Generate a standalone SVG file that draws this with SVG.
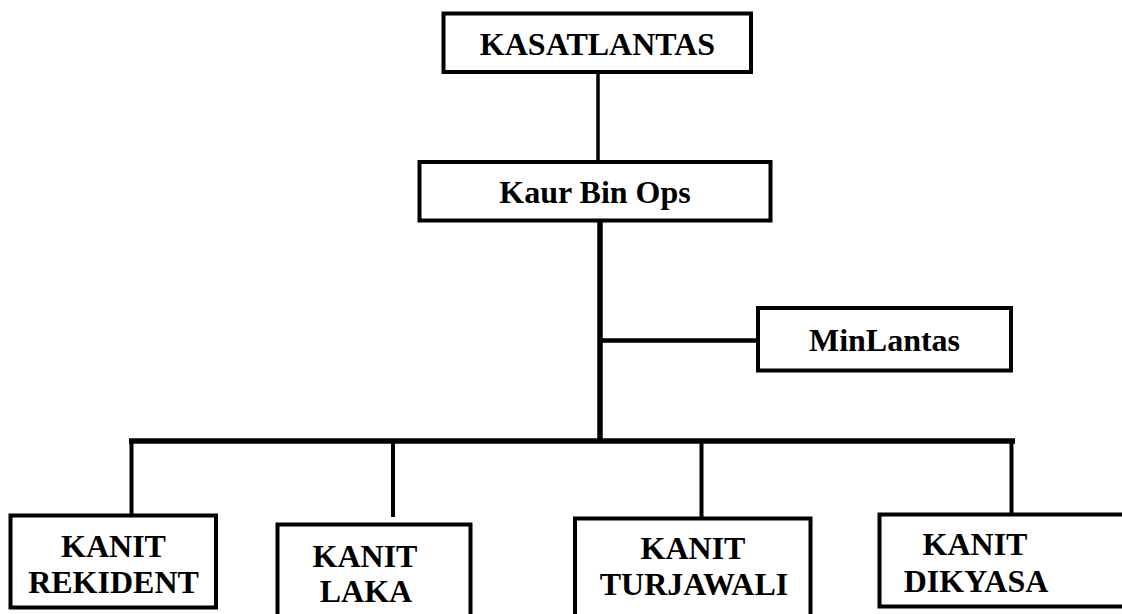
<svg xmlns="http://www.w3.org/2000/svg" width="1122" height="614" viewBox="0 0 1122 614">
<style>
.box{fill:#fff;stroke:#000;stroke-width:4}
.ln{stroke:#000;fill:none}
text{font-family:"Liberation Serif","Times New Roman",serif;font-weight:bold;font-size:32px;fill:#000;text-anchor:middle}
</style>
<rect width="1122" height="614" fill="#fff"/>
<g id="connectors">
<line class="ln" x1="598" y1="72" x2="598" y2="162" stroke-width="3.5"/>
<line class="ln" x1="600" y1="220" x2="600" y2="441" stroke-width="5.5"/>
<line class="ln" x1="600" y1="340.5" x2="758" y2="340.5" stroke-width="4.5"/>
<line class="ln" x1="129" y1="441" x2="1015" y2="441" stroke-width="5.5"/>
<line class="ln" x1="131.5" y1="441" x2="131.5" y2="516" stroke-width="4"/>
<line class="ln" x1="393" y1="441" x2="393" y2="517" stroke-width="4"/>
<line class="ln" x1="701.5" y1="441" x2="701.5" y2="518" stroke-width="4"/>
<line class="ln" x1="1011.5" y1="441" x2="1011.5" y2="514" stroke-width="4"/>
</g>
<g id="kasatlantas">
<rect class="box" x="443.5" y="13.5" width="307.5" height="58.5"/>
<text x="597.5" y="55">KASATLANTAS</text>
</g>
<g id="kaurbinops">
<rect class="box" x="419.5" y="162" width="351" height="58.5"/>
<text x="595" y="203">Kaur Bin Ops</text>
</g>
<g id="minlantas">
<rect class="box" x="758" y="308" width="253" height="62.5"/>
<text x="884.5" y="351">MinLantas</text>
</g>
<g id="rekident">
<rect class="box" x="10.5" y="515.5" width="205.5" height="92"/>
<text x="113.5" y="557">KANIT</text>
<text x="113.5" y="593">REKIDENT</text>
</g>
<g id="laka">
<rect class="box" x="277.5" y="524.5" width="193" height="100"/>
<text x="365" y="567">KANIT</text>
<text x="366" y="602">LAKA</text>
</g>
<g id="turjawali">
<rect class="box" x="575" y="518.5" width="235.5" height="105"/>
<text x="693" y="559">KANIT</text>
<text x="694" y="595">TURJAWALI</text>
</g>
<g id="dikyasa">
<rect class="box" x="879.5" y="514.5" width="260" height="92"/>
<text x="975" y="555">KANIT</text>
<text x="976" y="592">DIKYASA</text>
</g>
</svg>
